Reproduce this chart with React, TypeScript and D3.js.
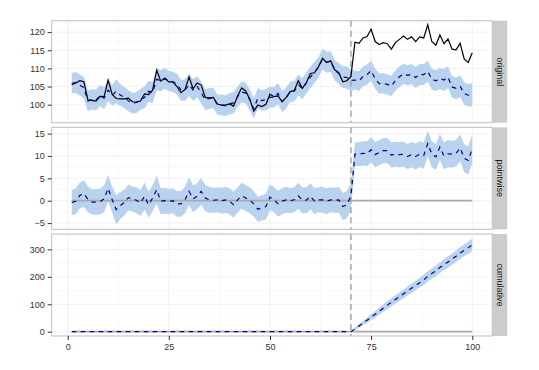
import React, { useEffect, useRef } from 'react'
import * as d3 from 'd3'

const width = 539
const height = 370

// last time point of the pre-intervention period
const preEnd = 70

// observed response, t = 1..100
const original = [
  105.5, 106.0, 106.6, 106.3, 101.3, 101.2, 101.0, 102.3, 102.2, 106.8,
  102.8, 101.7, 101.6, 101.6, 101.8, 100.8, 100.7, 101.0, 103.0, 102.8,
  104.0, 109.5, 106.5, 107.3, 106.3, 106.3, 105.0, 103.3, 104.2, 107.6,
  104.4, 106.0, 105.4, 102.0, 101.9, 102.0, 100.2, 99.9, 99.9, 100.2,
  99.6, 102.4, 104.6, 103.8, 101.5, 98.2, 99.9, 99.5, 100.1, 102.9,
  102.2, 102.4, 100.8, 102.0, 103.6, 103.9, 106.6, 104.5, 106.1, 108.6,
  108.8, 110.5, 112.8, 111.6, 112.1, 109.6, 108.8, 106.3, 106.6, 107.7,
  117.2, 116.9, 118.4, 118.8, 120.8, 117.4, 116.6, 117.1, 116.8, 115.3,
  117.1, 118.0, 118.9, 118.0, 118.7, 117.4, 118.7, 118.4, 122.0, 117.4,
  116.4, 119.2, 116.8, 118.1, 115.3, 115.1, 116.9, 112.6, 111.6, 114.3
]

// pointwise effect (response minus prediction)
const effect = [
  -0.4, -0.1, 1.2, 1.6, 0.3, -0.3, -0.3, -0.2, 0.4, 2.8,
  0.2, -2.0, -1.1, -0.4, 0.7, 0.4, 0.1, -0.5, 1.0, -0.9,
  0.6, 2.5, -0.1, 0.0, -0.2, 0.0, -0.7, -0.7, 0.2, 2.1,
  0.4, 1.0, 2.1, 0.6, 0.2, 0.1, 0.2, 0.0, 0.2, -0.1,
  -0.9, 0.2, 1.1, 0.6, 0.1, -0.7, -1.9, -1.6, -1.3, 0.8,
  0.2, -0.7, -0.1, 0.2, 0.0, 0.2, 1.1, 0.1, 0.1, 1.0,
  -0.1, 0.2, 0.2, -0.1, 0.2, 0.1, 0.2, -1.3, -0.9, 1.0,
  10.4, 10.4, 10.6, 10.5, 11.4, 10.3, 10.8, 11.2, 11.2, 10.2,
  10.4, 10.3, 10.4, 9.9, 10.3, 9.9, 10.4, 10.1, 12.8, 10.4,
  9.8, 12.0, 10.0, 10.5, 10.4, 10.6, 11.8, 9.5, 9.0, 11.6
]

// half width of the 95% interval around the prediction
const halfWidth = [
  2.8, 2.9, 2.9, 3.0, 2.9, 2.8, 2.9, 2.9, 3.0, 3.0,
  2.9, 3.3, 3.0, 2.9, 2.9, 2.8, 2.9, 2.9, 3.0, 2.9,
  2.9, 3.1, 2.9, 2.9, 2.8, 2.8, 2.9, 2.9, 3.0, 3.1,
  3.0, 2.9, 3.0, 2.9, 2.9, 2.8, 2.8, 2.9, 2.9, 2.9,
  2.9, 2.8, 2.9, 2.9, 2.9, 2.8, 2.8, 2.8, 2.9, 2.9,
  2.8, 2.9, 2.9, 2.9, 2.8, 2.8, 2.9, 2.9, 2.9, 2.9,
  2.9, 2.8, 2.9, 2.9, 2.8, 2.8, 2.9, 3.0, 3.1, 3.0,
  2.6, 2.7, 2.7, 2.8, 2.8, 2.8, 2.8, 2.8, 2.8, 2.8,
  2.8, 2.8, 2.8, 2.8, 2.8, 2.9, 2.9, 2.9, 2.9, 2.9,
  2.9, 2.9, 3.0, 3.0, 3.0, 3.0, 3.0, 3.1, 3.1, 3.2
]

// half width of the cumulative interval, post period t = 71..100
const cumHalfPost = [
  4.5, 6.5, 8, 9.5, 10.5, 11.5, 12.5, 13, 14, 14.5,
  15, 15.5, 16, 16.5, 17, 17.5, 18, 18.5, 18.5, 19,
  19.5, 19.5, 20, 20.5, 20.5, 21, 21.5, 21.5, 22, 22.5
]

const xTicks = [0, 25, 50, 75, 100]
const xMinor = [12.5, 37.5, 62.5, 87.5]
const panelNames = ['original', 'pointwise', 'cumulative']
const panelDomains = [[95.04, 123.14], [-6.4, 16.4], [-15.7, 356]]
const panelTicks = [[100, 105, 110, 115, 120], [-5, 0, 5, 10, 15], [0, 100, 200, 300]]
const panelMinor = [[97.5, 102.5, 107.5, 112.5, 117.5, 122.5], [-2.5, 2.5, 7.5, 12.5], [50, 150, 250, 350]]

const plotLeft = 51.7
const plotRight = 492.3
const stripW = 14.4
const panelTop = 20.7
const panelH = 102
const panelStep = 106.65
const font = '"Liberation Sans", Arial, Helvetica, sans-serif'

function App() {
  const ref = useRef<SVGSVGElement | null>(null)

  useEffect(() => {
    const svg = d3.select(ref.current)
    svg.selectAll('*').remove()

    const t = d3.range(1, original.length + 1)
    const idx = d3.range(original.length)
    const x = d3.scaleLinear().domain([-3.95, 104.95]).range([plotLeft, plotRight])

    const predicted = original.map((v, i) => v - effect[i])
    const cumulative = d3.cumsum(effect.map((v, i) => (i >= preEnd ? v : 0)))
    const cumHalf = idx.map(i => (i >= preEnd ? cumHalfPost[i - preEnd] : 0))

    const panels = [
      { mean: predicted, lo: idx.map(i => predicted[i] - halfWidth[i]), hi: idx.map(i => predicted[i] + halfWidth[i]), response: original, baseline: false },
      { mean: effect, lo: idx.map(i => effect[i] - halfWidth[i]), hi: idx.map(i => effect[i] + halfWidth[i]), response: null, baseline: true },
      { mean: Array.from(cumulative), lo: idx.map(i => cumulative[i] - cumHalf[i]), hi: idx.map(i => cumulative[i] + cumHalf[i]), response: null, baseline: true }
    ]

    panels.forEach((p, k) => {
      const top = panelTop + k * panelStep
      const y = d3.scaleLinear().domain(panelDomains[k]).range([top + panelH, top])
      const g = svg.append('g')

      g.append('rect')
        .attr('x', plotLeft).attr('y', top)
        .attr('width', plotRight - plotLeft).attr('height', panelH)
        .attr('fill', 'white')

      // grid
      g.selectAll('.vminor').data(xMinor).enter().append('line')
        .attr('x1', d => x(d)).attr('x2', d => x(d))
        .attr('y1', top).attr('y2', top + panelH)
        .attr('stroke', '#F5F5F5').attr('stroke-width', 0.6)
      g.selectAll('.hminor').data(panelMinor[k]).enter().append('line')
        .attr('x1', plotLeft).attr('x2', plotRight)
        .attr('y1', d => y(d)).attr('y2', d => y(d))
        .attr('stroke', '#F5F5F5').attr('stroke-width', 0.6)
      g.selectAll('.vmajor').data(xTicks).enter().append('line')
        .attr('x1', d => x(d)).attr('x2', d => x(d))
        .attr('y1', top).attr('y2', top + panelH)
        .attr('stroke', '#EBEBEB').attr('stroke-width', 0.7)
      g.selectAll('.hmajor').data(panelTicks[k]).enter().append('line')
        .attr('x1', plotLeft).attr('x2', plotRight)
        .attr('y1', d => y(d)).attr('y2', d => y(d))
        .attr('stroke', '#EBEBEB').attr('stroke-width', 0.7)

      const area = d3.area<number>()
        .x(i => x(t[i]))
        .y0(i => y(p.lo[i]))
        .y1(i => y(p.hi[i]))
      g.append('path').attr('d', area(idx)).attr('fill', '#B9D3EE')

      if (p.baseline) {
        g.append('line')
          .attr('x1', x(t[0])).attr('x2', x(t[t.length - 1]))
          .attr('y1', y(0)).attr('y2', y(0))
          .attr('stroke', '#A9A9A9').attr('stroke-width', 1.8)
      }

      g.append('line')
        .attr('x1', x(preEnd)).attr('x2', x(preEnd))
        .attr('y1', top).attr('y2', top + panelH)
        .attr('stroke', '#A9A9A9').attr('stroke-width', 1.6)
        .attr('stroke-dasharray', '6,4')

      if (p.response) {
        const resp = p.response
        const line = d3.line<number>().x(i => x(t[i])).y(i => y(resp[i]))
        g.append('path').attr('d', line(idx))
          .attr('fill', 'none').attr('stroke', 'black').attr('stroke-width', 1.2)
      }

      const meanLine = d3.line<number>().x(i => x(t[i])).y(i => y(p.mean[i]))
      g.append('path').attr('d', meanLine(idx))
        .attr('fill', 'none').attr('stroke', '#00008B').attr('stroke-width', 1.2)
        .attr('stroke-dasharray', '4.5,4.5')

      g.append('rect')
        .attr('x', plotLeft).attr('y', top)
        .attr('width', plotRight - plotLeft).attr('height', panelH)
        .attr('fill', 'none').attr('stroke', '#BDBDBD').attr('stroke-width', 1)

      // facet strip
      g.append('rect')
        .attr('x', plotRight + 0.5).attr('y', top)
        .attr('width', stripW).attr('height', panelH)
        .attr('fill', '#CCCCCC')
      g.append('text')
        .attr('transform', `translate(${plotRight + 0.5 + stripW / 2},${top + panelH / 2}) rotate(90)`)
        .attr('text-anchor', 'middle')
        .attr('dominant-baseline', 'central')
        .attr('font-family', font).attr('font-size', 9)
        .attr('fill', '#1A1A1A')
        .text(panelNames[k])

      const yAxis = g.append('g')
        .attr('transform', `translate(${plotLeft},0)`)
        .call(d3.axisLeft(y).tickValues(panelTicks[k]).tickSize(4).tickPadding(3))
      yAxis.select('.domain').remove()
      yAxis.selectAll('line').attr('stroke', '#333')
      yAxis.selectAll('text').attr('fill', '#333').attr('font-family', font).attr('font-size', 9)

      if (k === panels.length - 1) {
        const xAxis = g.append('g')
          .attr('transform', `translate(0,${top + panelH})`)
          .call(d3.axisBottom(x).tickValues(xTicks).tickSize(4).tickPadding(4))
        xAxis.select('.domain').remove()
        xAxis.selectAll('line').attr('stroke', '#333')
        xAxis.selectAll('text').attr('fill', '#333').attr('font-family', font).attr('font-size', 9)
      }
    })
  }, [])

  return (
    <svg
      ref={ref}
      width={width}
      height={height}
      style={{ position: 'absolute', left: 0, top: 0, background: 'white' }}
    />
  )
}

export default App
